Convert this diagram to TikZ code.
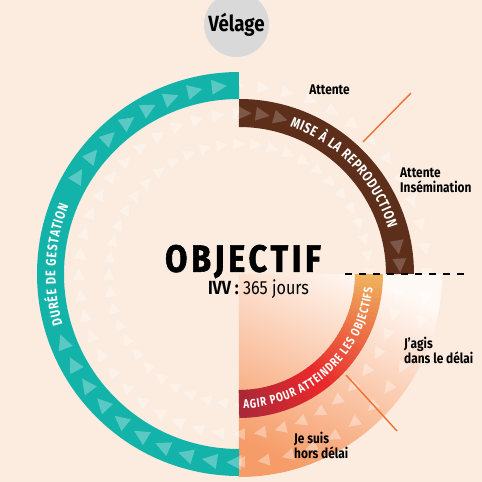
\documentclass[tikz,border=0pt]{standalone}
\usepackage{fontspec}
\setmainfont{Fira Sans}[FakeStretch=0.85]
\newfontfamily\titlefont{Fira Sans}[FakeStretch=0.85, LetterSpace=10, BoldFeatures={FakeBold=1.5}]
\newfontfamily\bandfamily{Fira Sans}[FakeStretch=0.78]
\usetikzlibrary{decorations.text}

\definecolor{fondpeche}{RGB}{252,236,224}
\definecolor{vertbleu}{RGB}{19,179,170}
\definecolor{brun}{RGB}{93,46,25}
\definecolor{gristete}{RGB}{217,217,217}
\definecolor{rougefonce}{RGB}{170,40,56}
\definecolor{rougevif}{RGB}{232,40,42}
\definecolor{orangeclair}{RGB}{240,178,94}
\definecolor{quarthaut}{RGB}{255,249,245}
\definecolor{quartbas}{RGB}{246,156,104}
\definecolor{traitorange}{RGB}{240,112,48}

\newcommand{\bandfont}{\color{white}\bandfamily\bfseries\fontsize{14}{14}\selectfont}
\newcommand{\bandfontgrand}{\color{white}\bandfamily\bfseries\fontsize{14.5}{14.5}\selectfont}
\newcommand{\bandfontpetit}{\color{white}\bandfamily\bfseries\fontsize{12.5}{12.5}\selectfont}

\begin{document}
\begin{tikzpicture}[x=1pt, y=1pt,
    ringband/.style={line width=28pt},
    faint/.style={fill=white, fill opacity=0.35},
    note/.style={font=\bfseries\fontsize{14}{15}\selectfont, align=left, anchor=west, inner sep=0pt},
    leader/.style={draw=traitorange, line width=1.4pt}]

    % パラメータの定義
    \pgfmathsetmacro{\rVert}{188.5}
    \pgfmathsetmacro{\rBrun}{161}
    \pgfmathsetmacro{\rRouge}{130}
    \pgfmathsetmacro{\rQuart}{203}

    % 背景
    \fill[fondpeche] (-239,-208) rectangle (243,274);
    \useasboundingbox (-239,-208) rectangle (243,274);

    % 右下の扇形（グラデーション）
    \shade[top color=quarthaut, bottom color=quartbas, shading angle=-25]
        (0,0) -- (0:\rQuart) arc[start angle=0, end angle=-90, radius=\rQuart] -- cycle;

    % 薄い三角形（時計回り）
    \foreach \R/\s in {188/6, 160/6, 130/5.5} {
        \foreach \a in {0,7.5,...,352.5} {
            \fill[faint, shift={(\a:\R)}, rotate=\a] (0,-\s) -- (-\s,\s) -- (\s,\s) -- cycle;
        }
    }

    % 妊娠期間の帯
    \draw[ringband, line width=27pt, vertbleu] (90:\rVert) arc[start angle=90, end angle=270, radius=\rVert];

    % 繁殖の帯
    \draw[ringband, brun] (90:\rBrun) arc[start angle=90, end angle=0, radius=\rBrun];

    % 目標の帯（赤から橙へ）
    \foreach \i in {0,...,44} {
        \pgfmathsetmacro{\aS}{-90+2*\i}
        \pgfmathsetmacro{\aE}{min(\aS+2.4,0)}
        \ifnum\i<18
            \pgfmathtruncatemacro{\p}{100*\i/17}
            \draw[ringband, color=rougevif!\p!rougefonce] (\aS:\rRouge) arc[start angle=\aS, end angle=\aE, radius=\rRouge];
        \else
            \pgfmathtruncatemacro{\p}{100*(\i-18)/26}
            \draw[ringband, color=orangeclair!\p!rougevif] (\aS:\rRouge) arc[start angle=\aS, end angle=\aE, radius=\rRouge];
        \fi
    }

    % 帯の中の三角形
    \foreach \a in {96,103.5,...,268.5} {
        \pgfmathtruncatemacro{\montre}{(\a<152)||(\a>200)}
        \ifnum\montre=1
            \fill[white, fill opacity=0.3, shift={(\a:\rVert)}, rotate=\a] (0,-7.5) -- (-7.5,7.5) -- (7.5,7.5) -- cycle;
        \fi
    }
    \foreach \a in {88,81.5,75,9.5,3} {
        \fill[white, fill opacity=0.2, shift={(\a:\rBrun)}, rotate=\a] (0,-7) -- (-7,7) -- (7,7) -- cycle;
    }

    % 帯の文字
    \path[decorate, decoration={text along path, text align=fit to path,
        text={|\bandfont|DURÉE DE GESTATION}}]
        (196:183.5) arc[start angle=196, end angle=158, radius=183.5];
    \path[decorate, decoration={text along path, text align=fit to path,
        text={|\bandfontgrand|MISE À LA REPRODUCTION}}]
        (71:156) arc[start angle=71, end angle=17, radius=156];
    \path[decorate, decoration={text along path, text align=fit to path,
        text={|\bandfontpetit|AGIR POUR ATTEINDRE LES OBJECTIFS}}]
        (-88:134.5) arc[start angle=-88, end angle=-6, radius=134.5];

    % 「Vélage」
    \node[circle, fill=gristete, minimum size=65, inner sep=0pt,
        font=\bfseries\fontsize{22}{22}\selectfont] (velage) at (-2.5,249.5) {Vélage};

    % 中央の目標
    \node[font=\titlefont\bfseries\fontsize{38}{38}\selectfont] (objectif) at (4,12.5) {OBJECTIF};
    \node[font=\fontsize{19}{19}\selectfont] (ivv) at (19.5,-15) {\textbf{IVV :} 365 jours};

    % 説明の文字
    \node[note, anchor=center] (attente) at (90.5,184) {Attente};
    \node[note] (insemination) at (161,93.5) {Attente\\Insémination};
    \node[note] (dansdelai) at (165,-76.5) {J’agis\\dans le délai};
    \node[note] (horsdelai) at (55,-171.5) {Je suis\\hors délai};

    % 引き出し線と破線
    \coordinate (leadA1) at (124,132);
    \coordinate (leadA2) at (172,181);
    \coordinate (leadB1) at (107,-101);
    \coordinate (leadB2) at (158,-157);
    \draw[leader] (leadA1) -- (leadA2);
    \draw[leader] (leadB1) -- (leadB2);
    \coordinate (tiretG) at (106,0);
    \coordinate (tiretD) at (226,0);
    \draw[line width=1.3pt, dash pattern=on 7pt off 7pt] (tiretG) -- (tiretD);
    %
\end{tikzpicture}
\end{document}
